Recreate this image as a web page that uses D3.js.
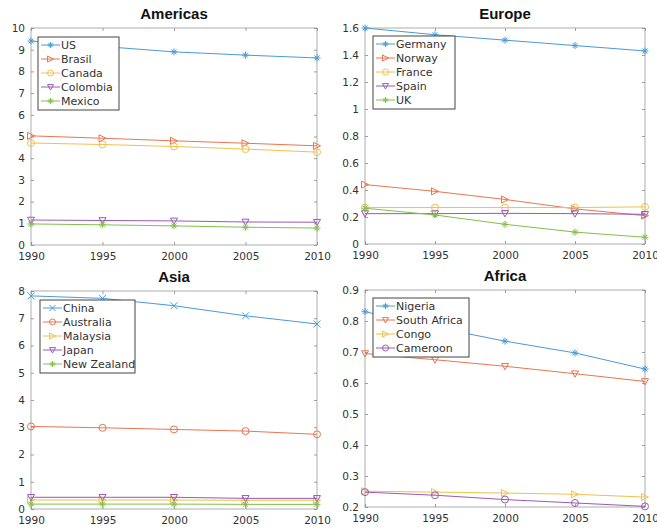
<!DOCTYPE html>
<html>
<head>
<meta charset="utf-8">
<script src="https://cdn.jsdelivr.net/npm/d3@7"></script>
<style>
  body { margin: 0; background: #fff; }
  svg { display: block; }
  .tick text { font-family: "DejaVu Sans", sans-serif; font-size: 10.5px; fill: #333; }
  .title { font-family: "Liberation Sans", Arial, sans-serif; font-size: 15px; font-weight: bold; fill: #111; }
  .legText { font-family: "DejaVu Sans", sans-serif; font-size: 11px; fill: #333; }
</style>
</head>
<body>
<svg id="chart" width="657" height="532"></svg>
<script>
const years = [1990, 1995, 2000, 2005, 2010]

const americasNames = ['US', 'Brasil', 'Canada', 'Colombia', 'Mexico']
const americasValues = [
  [9.4, 9.15, 8.9, 8.75, 8.62],
  [5.03, 4.92, 4.8, 4.69, 4.57],
  [4.7, 4.63, 4.54, 4.42, 4.28],
  [1.15, 1.13, 1.11, 1.06, 1.05],
  [0.97, 0.93, 0.88, 0.82, 0.78]
]
const americasTicks = [0, 1, 2, 3, 4, 5, 6, 7, 8, 9, 10]

const europeNames = ['Germany', 'Norway', 'France', 'Spain', 'UK']
const europeValues = [
  [1.6, 1.55, 1.51, 1.47, 1.43],
  [0.44, 0.39, 0.33, 0.26, 0.21],
  [0.27, 0.27, 0.27, 0.27, 0.275],
  [0.225, 0.225, 0.227, 0.225, 0.22],
  [0.265, 0.215, 0.146, 0.088, 0.05]
]
const europeTicks = [0, 0.2, 0.4, 0.6, 0.8, 1, 1.2, 1.4, 1.6]

const asiaNames = ['China', 'Australia', 'Malaysia', 'Japan', 'New Zealand']
const asiaValues = [
  [7.82, 7.73, 7.46, 7.09, 6.79],
  [3.03, 2.98, 2.92, 2.86, 2.74],
  [0.33, 0.33, 0.33, 0.32, 0.32],
  [0.43, 0.43, 0.43, 0.39, 0.39],
  [0.18, 0.18, 0.18, 0.17, 0.17]
]
const asiaTicks = [0, 1, 2, 3, 4, 5, 6, 7, 8]

const africaNames = ['Nigeria', 'South Africa', 'Congo', 'Cameroon']
const africaValues = [
  [0.83, 0.78, 0.735, 0.697, 0.645],
  [0.695, 0.675, 0.654, 0.63, 0.605],
  [0.251, 0.248, 0.245, 0.241, 0.232],
  [0.248, 0.238, 0.224, 0.213, 0.202]
]
const africaTicks = [0.2, 0.3, 0.4, 0.5, 0.6, 0.7, 0.8, 0.9]

const colors = ['#4a9ad8', '#ea7550', '#f0c24a', '#9a5ab4', '#82c04a']

// asterisk and x markers are not in d3.symbol, so build small paths
function markerPath (type, r) {
  if (type === 'star') {
    const a = r * 0.7
    return `M${-r},0L${r},0M0,${-r}L0,${r}M${-a},${-a}L${a},${a}M${-a},${a}L${a},${-a}`
  }
  if (type === 'x') return `M${-r},${-r}L${r},${r}M${-r},${r}L${r},${-r}`
  if (type === 'circle') return `M${r},0A${r},${r} 0 1,1 ${-r},0A${r},${r} 0 1,1 ${r},0Z`
  if (type === 'right') return `M${r},0L${-r},${-r}L${-r},${r}Z`
  if (type === 'down') return `M${-r},${-r * 0.8}L${r},${-r * 0.8}L0,${r}Z`
  return ''
}

const panels = [
  { title: 'Americas', names: americasNames, values: americasValues, ticks: americasTicks,
    domain: [0, 10], markers: ['star', 'right', 'circle', 'down', 'star'],
    box: { l: 31, r: 317, t: 28, b: 245 }, legend: { x: 38, y: 37, w: 81 } },
  { title: 'Europe', names: europeNames, values: europeValues, ticks: europeTicks,
    domain: [0, 1.6], markers: ['star', 'right', 'circle', 'down', 'star'],
    box: { l: 365, r: 645, t: 28, b: 244 }, legend: { x: 373, y: 36, w: 82 } },
  { title: 'Asia', names: asiaNames, values: asiaValues, ticks: asiaTicks,
    domain: [0, 8], markers: ['x', 'circle', 'right', 'down', 'star'],
    box: { l: 31, r: 317, t: 291, b: 509 }, legend: { x: 40, y: 300, w: 95 } },
  { title: 'Africa', names: africaNames, values: africaValues, ticks: africaTicks,
    domain: [0.2, 0.9], markers: ['star', 'down', 'right', 'circle'],
    box: { l: 365, r: 645, t: 290, b: 507 }, legend: { x: 373, y: 298, w: 96 } }
]

const svg = d3.select('#chart')

panels.forEach(p => {
  const { l, r, t, b } = p.box
  const x = d3.scaleLinear().domain([1990, 2010]).range([l, r])
  const y = d3.scaleLinear().domain(p.domain).range([b, t])
  const g = svg.append('g')

  g.append('rect')
    .attr('x', l).attr('y', t).attr('width', r - l).attr('height', b - t)
    .attr('fill', 'none').attr('stroke', '#999').attr('stroke-width', 0.8)

  const xAxis = g.append('g').attr('transform', `translate(0,${b})`)
    .call(d3.axisBottom(x).tickValues(years).tickFormat(d3.format('d')).tickSizeInner(-3).tickSizeOuter(0).tickPadding(8))
  const yAxis = g.append('g').attr('transform', `translate(${l},0)`)
    .call(d3.axisLeft(y).tickValues(p.ticks).tickFormat(d => String(d)).tickSizeInner(-3).tickSizeOuter(0).tickPadding(6))
  g.append('g').attr('transform', `translate(0,${t})`)
    .call(d3.axisTop(x).tickValues(years).tickFormat('').tickSizeInner(-3).tickSizeOuter(0))
  g.append('g').attr('transform', `translate(${r},0)`)
    .call(d3.axisRight(y).tickValues(p.ticks).tickFormat('').tickSizeInner(-3).tickSizeOuter(0))
  g.selectAll('.domain').remove()
  g.selectAll('.tick line').attr('stroke', '#888').attr('stroke-width', 0.8)

  g.append('text').attr('class', 'title')
    .attr('x', (l + r) / 2).attr('y', t - 9).attr('text-anchor', 'middle')
    .text(p.title)

  const line = d3.line().x((d, i) => x(years[i])).y(d => y(d))

  p.values.forEach((vals, si) => {
    const c = colors[si]
    g.append('path').datum(vals)
      .attr('d', line).attr('fill', 'none').attr('stroke', c).attr('stroke-width', 1)
    g.selectAll(null).data(vals).enter().append('path')
      .attr('transform', (d, i) => `translate(${x(years[i])},${y(d)})`)
      .attr('d', markerPath(p.markers[si], 3.5))
      .attr('fill', 'none').attr('stroke', c).attr('stroke-width', 1)
  })

  // legend
  const lg = p.legend
  const rowH = 14
  const leg = g.append('g')
  leg.append('rect')
    .attr('x', lg.x).attr('y', lg.y).attr('width', lg.w).attr('height', p.names.length * rowH + 3)
    .attr('fill', '#fff').attr('stroke', '#444').attr('stroke-width', 1)
  p.names.forEach((name, si) => {
    const cy = lg.y + 8 + si * rowH
    const c = colors[si]
    leg.append('line')
      .attr('x1', lg.x + 3).attr('x2', lg.x + 22).attr('y1', cy).attr('y2', cy)
      .attr('stroke', c).attr('stroke-width', 1)
    leg.append('path')
      .attr('transform', `translate(${lg.x + 12.5},${cy})`)
      .attr('d', markerPath(p.markers[si], 3))
      .attr('fill', 'none').attr('stroke', c).attr('stroke-width', 1)
    leg.append('text').attr('class', 'legText')
      .attr('x', lg.x + 23).attr('y', cy + 4)
      .text(name)
  })
})
</script>
</body>
</html>
